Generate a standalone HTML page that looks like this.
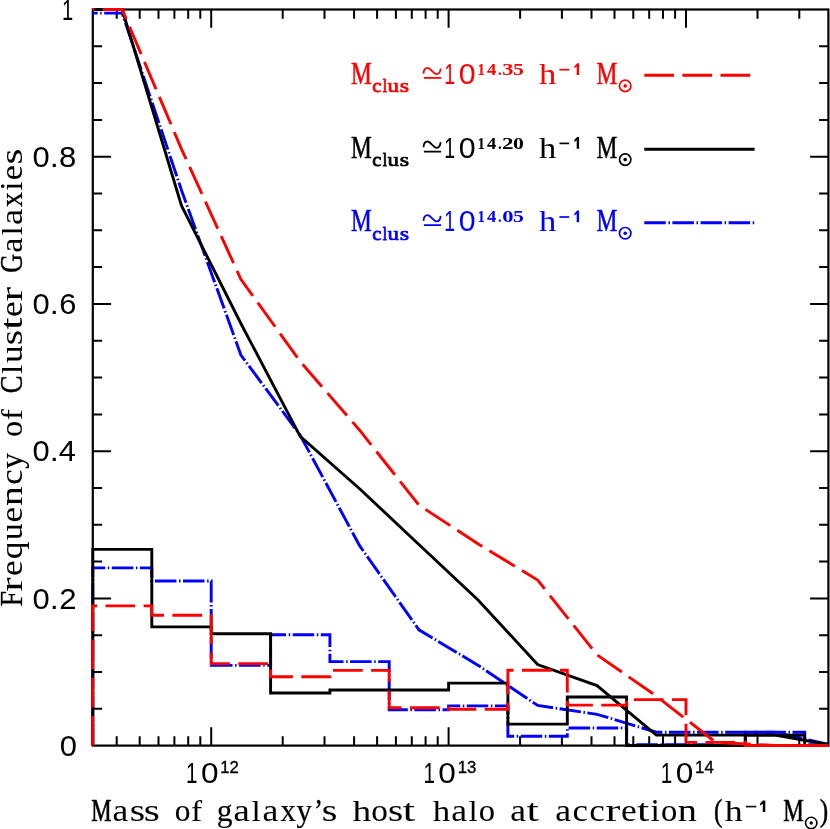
<!DOCTYPE html>
<html><head><meta charset="utf-8"><title>Cluster galaxies</title>
<style>html,body{margin:0;padding:0;background:#fff}svg{display:block;will-change:transform}text{font-family:"Liberation Serif",serif}.sn{font-family:"Liberation Sans",sans-serif}.k text{vector-effect:non-scaling-stroke;stroke-linejoin:round}</style></head><body>
<svg width="830" height="829" viewBox="0 0 830 829">
<rect width="830" height="829" fill="#fff"/>
<path d="M116.7,745.6v-9.3M116.7,9.5v9.3M139.7,745.6v-9.3M139.7,9.5v9.3M158.5,745.6v-9.3M158.5,9.5v9.3M174.4,745.6v-9.3M174.4,9.5v9.3M188.2,745.6v-9.3M188.2,9.5v9.3M200.3,745.6v-9.3M200.3,9.5v9.3M211.2,745.6v-18.3M211.2,9.5v18.3M282.7,745.6v-9.3M282.7,9.5v9.3M324.5,745.6v-9.3M324.5,9.5v9.3M354.1,745.6v-9.3M354.1,9.5v9.3M377.1,745.6v-9.3M377.1,9.5v9.3M395.9,745.6v-9.3M395.9,9.5v9.3M411.8,745.6v-9.3M411.8,9.5v9.3M425.6,745.6v-9.3M425.6,9.5v9.3M437.7,745.6v-9.3M437.7,9.5v9.3M448.6,745.6v-18.3M448.6,9.5v18.3M520.1,745.6v-9.3M520.1,9.5v9.3M561.9,745.6v-9.3M561.9,9.5v9.3M591.5,745.6v-9.3M591.5,9.5v9.3M614.5,745.6v-9.3M614.5,9.5v9.3M633.3,745.6v-9.3M633.3,9.5v9.3M649.2,745.6v-9.3M649.2,9.5v9.3M663.0,745.6v-9.3M663.0,9.5v9.3M675.1,745.6v-9.3M675.1,9.5v9.3M686.0,745.6v-18.3M686.0,9.5v18.3M757.5,745.6v-9.3M757.5,9.5v9.3M799.3,745.6v-9.3M799.3,9.5v9.3M92.8,708.8h9.3M828.4,708.8h-9.3M92.8,672.0h9.3M828.4,672.0h-9.3M92.8,635.2h9.3M828.4,635.2h-9.3M92.8,598.4h18.3M828.4,598.4h-18.3M92.8,561.6h9.3M828.4,561.6h-9.3M92.8,524.8h9.3M828.4,524.8h-9.3M92.8,488.0h9.3M828.4,488.0h-9.3M92.8,451.2h18.3M828.4,451.2h-18.3M92.8,414.4h9.3M828.4,414.4h-9.3M92.8,377.6h9.3M828.4,377.6h-9.3M92.8,340.7h9.3M828.4,340.7h-9.3M92.8,303.9h18.3M828.4,303.9h-18.3M92.8,267.1h9.3M828.4,267.1h-9.3M92.8,230.3h9.3M828.4,230.3h-9.3M92.8,193.5h9.3M828.4,193.5h-9.3M92.8,156.7h18.3M828.4,156.7h-18.3M92.8,119.9h9.3M828.4,119.9h-9.3M92.8,83.1h9.3M828.4,83.1h-9.3M92.8,46.3h9.3M828.4,46.3h-9.3" stroke="#000" stroke-width="2" fill="none"/>
<rect x="92.8" y="9.5" width="735.6" height="736.1" fill="none" stroke="#000" stroke-width="2.2"/>
<g fill="none" stroke-width="2.9" stroke-linejoin="miter">
<path d="M92.8,745.6 L92.8,567.9 L151.8,567.9 L151.8,581.0 L211.2,581.0 L211.2,665.4 L270.6,665.4 L270.6,634.7 L329.9,634.7 L329.9,661.6 L389.2,661.6 L389.2,709.7 L448.6,709.7 L448.6,705.9 L507.9,705.9 L507.9,736.3 L567.3,736.3 L567.3,728.0 L626.6,728.0 L626.6,744.6 L686.0,744.6 L686.0,744.6 L745.3,744.6 L745.3,732.2 L804.7,732.2 L804.7,744.6 L828.4,744.6" stroke="#0000ff" stroke-dasharray="21.5 2.6 1.5 2.5"/>
<path d="M92.8,13.1 L122.2,13.1 L181.5,190.3 L240.9,355.0 L300.2,435.2 L359.6,545.7 L418.9,629.8 L478.3,665.4 L537.6,705.4 L597.0,714.3 L656.3,732.2 L715.7,732.2 L775.0,732.2 L828.4,744.5" stroke="#0000ff" stroke-dasharray="21.5 2.6 1.5 2.5" stroke-dashoffset="16.7"/>
<path d="M92.8,745.6 L92.8,549.4 L151.8,549.4 L151.8,626.9 L211.2,626.9 L211.2,633.7 L270.6,633.7 L270.6,693.0 L329.9,693.0 L329.9,690.0 L389.2,690.0 L389.2,690.0 L448.6,690.0 L448.6,683.1 L507.9,683.1 L507.9,724.1 L567.3,724.1 L567.3,697.0 L626.6,697.0 L626.6,745.5 L686.0,745.5 L686.0,745.5 L745.3,745.5 L745.3,735.1 L804.7,735.1 L804.7,745.5 L828.4,745.5" stroke="#000"/>
<path d="M92.8,9.5 L122.2,9.5 L181.5,205.7 L240.9,323.5 L300.2,436.4 L359.6,488.7 L418.9,544.5 L478.3,600.2 L537.6,664.6 L597.0,685.6 L656.3,735.1 L715.7,735.1 L775.0,735.1 L828.4,744.5" stroke="#000"/>
<path d="M92.8,745.6 L92.8,605.9 L151.8,605.9 L151.8,615.2 L211.2,615.2 L211.2,663.6 L270.6,663.6 L270.6,676.8 L329.9,676.8 L329.9,670.4 L389.2,670.4 L389.2,707.7 L448.6,707.7 L448.6,709.2 L507.9,709.2 L507.9,670.2 L567.3,670.2 L567.3,705.1 L626.6,705.1 L626.6,699.6 L686.0,699.6 L686.0,742.4 L745.3,742.4 L745.3,745.5 L804.7,745.5 L804.7,745.5 L828.4,745.5" stroke="#ff0000" stroke-dasharray="29.7 8.4"/>
<path d="M92.8,9.5 L122.2,9.5 L181.5,149.1 L240.9,279.3 L300.2,361.5 L359.6,430.2 L418.9,505.1 L478.3,544.0 L537.6,580.0 L597.0,654.8 L656.3,696.0 L715.7,742.4 L775.0,745.5 L828.4,745.5" stroke="#ff0000" stroke-dasharray="29.7 8.4" stroke-dashoffset="28"/>
<path d="M644.3,75.3H754.6" stroke="#ff0000" stroke-dasharray="29.7 8.4"/>
<path d="M644.3,149.2H754.6" stroke="#000"/>
<path d="M644.3,222.7H754.6" stroke="#0000ff" stroke-dasharray="21.5 2.6 1.5 2.5"/>
</g>
<g fill="#000" stroke="none">
<text class="sn" transform="translate(32.49,166.8) scale(1.046,1)" font-size="29.6" stroke-width="0.01">0</text>
<text class="sn" transform="translate(49.63,166.8) scale(1.100,1)" font-size="29.6" stroke-width="0.01">.</text>
<text class="sn" transform="translate(59.05,166.8) scale(1.051,1)" font-size="29.6" stroke-width="0.01">8</text>
<text class="sn" transform="translate(32.49,314.0) scale(1.046,1)" font-size="29.6" stroke-width="0.01">0</text>
<text class="sn" transform="translate(49.63,314.0) scale(1.100,1)" font-size="29.6" stroke-width="0.01">.</text>
<text class="sn" transform="translate(59.24,314.0) scale(1.040,1)" font-size="29.6" stroke-width="0.01">6</text>
<text class="sn" transform="translate(32.49,461.3) scale(1.046,1)" font-size="29.6" stroke-width="0.01">0</text>
<text class="sn" transform="translate(49.63,461.3) scale(1.100,1)" font-size="29.6" stroke-width="0.01">.</text>
<text class="sn" transform="translate(58.79,461.3) scale(1.039,1)" font-size="29.6" stroke-width="0.01">4</text>
<text class="sn" transform="translate(32.49,608.5) scale(1.046,1)" font-size="29.6" stroke-width="0.01">0</text>
<text class="sn" transform="translate(49.63,608.5) scale(1.100,1)" font-size="29.6" stroke-width="0.01">.</text>
<text class="sn" transform="translate(59.23,608.5) scale(1.053,1)" font-size="29.6" stroke-width="0.01">2</text>
<text class="sn" transform="translate(59.79,755.8) scale(1.046,1)" font-size="29.6" stroke-width="0.01">0</text>
<text class="sn" transform="translate(62.06,19.6) scale(0.682,1)" font-size="29.6" stroke-width="0.01">1</text>
<text class="sn" transform="translate(186.03,782.8) scale(0.697,1)" font-size="29.6" stroke-width="0.01">1</text>
<text class="sn" transform="translate(200.97,782.8) scale(1.067,1)" font-size="29.6" stroke-width="0.01">0</text>
<text class="sn" x="220.3" y="773.1" font-size="16.5" stroke="#000" stroke-width="0.35" textLength="18.6" lengthAdjust="spacingAndGlyphs">12</text>
<text class="sn" transform="translate(423.43,782.8) scale(0.697,1)" font-size="29.6" stroke-width="0.01">1</text>
<text class="sn" transform="translate(438.37,782.8) scale(1.067,1)" font-size="29.6" stroke-width="0.01">0</text>
<text class="sn" x="457.7" y="773.1" font-size="16.5" stroke="#000" stroke-width="0.35" textLength="18.6" lengthAdjust="spacingAndGlyphs">13</text>
<text class="sn" transform="translate(660.83,782.8) scale(0.697,1)" font-size="29.6" stroke-width="0.01">1</text>
<text class="sn" transform="translate(675.77,782.8) scale(1.067,1)" font-size="29.6" stroke-width="0.01">0</text>
<text class="sn" x="695.1" y="773.1" font-size="16.5" stroke="#000" stroke-width="0.35" textLength="18.6" lengthAdjust="spacingAndGlyphs">14</text>
</g>
<g class="k" fill="#000" stroke="#000" stroke-width="0.5">
<text transform="translate(91.34,820.6) scale(0.728,1)" font-size="31.4" stroke-width="0.53">M</text>
<text transform="translate(112.55,820.6) scale(1.129,1)" font-size="31.4" stroke-width="0.01">a</text>
<text transform="translate(129.78,820.6) scale(1.255,1)" font-size="31.4" stroke-width="0.01">s</text>
<text transform="translate(143.80,820.6) scale(1.317,1)" font-size="31.4" stroke-width="0.01">s</text>
<text transform="translate(174.70,820.6) scale(0.999,1)" font-size="31.4" stroke-width="0.15">o</text>
<text transform="translate(191.07,820.6) scale(1.120,1)" font-size="29.83" stroke-width="0.01">f</text>
<text transform="translate(216.75,820.6) scale(1.003,1)" font-size="31.4" stroke-width="0.15">g</text>
<text transform="translate(233.41,820.6) scale(1.169,1)" font-size="31.4" stroke-width="0.01">a</text>
<text transform="translate(251.43,820.6) scale(1.114,1)" font-size="29.83" stroke-width="0.01">l</text>
<text transform="translate(262.45,820.6) scale(1.137,1)" font-size="31.4" stroke-width="0.01">a</text>
<text transform="translate(280.43,820.6) scale(0.984,1)" font-size="31.4" stroke-width="0.17">x</text>
<text transform="translate(296.52,820.6) scale(0.981,1)" font-size="31.4" stroke-width="0.18">y</text>
<text transform="translate(314.36,820.6) scale(0.813,1)" font-size="31.4" stroke-width="0.41">’</text>
<text transform="translate(321.86,820.6) scale(1.276,1)" font-size="31.4" stroke-width="0.01">s</text>
<text transform="translate(352.54,820.6) scale(1.251,1)" font-size="29.83" stroke-width="0.01">h</text>
<text transform="translate(371.23,820.6) scale(1.059,1)" font-size="31.4" stroke-width="0.07">o</text>
<text transform="translate(387.90,820.6) scale(1.245,1)" font-size="31.4" stroke-width="0.01">s</text>
<text transform="translate(402.77,820.6) scale(1.409,1)" font-size="31.4" stroke-width="0.01">t</text>
<text transform="translate(432.66,820.6) scale(1.167,1)" font-size="29.83" stroke-width="0.01">h</text>
<text transform="translate(451.25,820.6) scale(1.137,1)" font-size="31.4" stroke-width="0.01">a</text>
<text transform="translate(468.87,820.6) scale(1.057,1)" font-size="29.83" stroke-width="0.07">l</text>
<text transform="translate(478.66,820.6) scale(1.037,1)" font-size="31.4" stroke-width="0.1">o</text>
<text transform="translate(510.25,820.6) scale(1.129,1)" font-size="31.4" stroke-width="0.01">a</text>
<text transform="translate(526.47,820.6) scale(1.409,1)" font-size="31.4" stroke-width="0.01">t</text>
<text transform="translate(555.35,820.6) scale(1.137,1)" font-size="31.4" stroke-width="0.01">a</text>
<text transform="translate(572.58,820.6) scale(1.104,1)" font-size="31.4" stroke-width="0.01">c</text>
<text transform="translate(589.17,820.6) scale(1.113,1)" font-size="31.4" stroke-width="0.01">c</text>
<text transform="translate(605.51,820.6) scale(1.413,1)" font-size="31.4" stroke-width="0.01">r</text>
<text transform="translate(620.92,820.6) scale(1.127,1)" font-size="31.4" stroke-width="0.01">e</text>
<text transform="translate(637.07,820.6) scale(1.409,1)" font-size="31.4" stroke-width="0.01">t</text>
<text transform="translate(650.83,820.6) scale(1.018,1)" font-size="31.4" stroke-width="0.13">i</text>
<text transform="translate(660.96,820.6) scale(1.037,1)" font-size="31.4" stroke-width="0.1">o</text>
<text transform="translate(677.72,820.6) scale(1.220,1)" font-size="31.4" stroke-width="0.01">n</text>
<text transform="translate(713.99,820.6) scale(0.806,1)" font-size="31.4" stroke-width="0.42">(</text>
<text transform="translate(724.65,820.6) scale(1.202,1)" font-size="29.83" stroke-width="0.01">h</text>
<text transform="translate(783.33,820.6) scale(0.736,1)" font-size="31.4" stroke-width="0.52">M</text>
<text transform="translate(819.78,820.6) scale(0.806,1)" font-size="31.4" stroke-width="0.42">)</text>
<path d="M745.8,806.6H756.3" stroke="#000" stroke-width="1.6" fill="none"/>
<path d="M760.1,803.6l2.9,-3.1h2.3v11.5h-2.5v-8.2l-2.7,1.8z" stroke="none"/>
<circle cx="811.2" cy="823" r="5.7" fill="none" stroke="#000" stroke-width="1.6"/><circle cx="811.2" cy="823" r="1.7" stroke="none"/>
<text transform="translate(21.8,606.60) rotate(-90) scale(0.888,1)" font-size="31.4" stroke-width="0.31">F</text>
<text transform="translate(21.8,591.46) rotate(-90) scale(1.361,1)" font-size="31.4" stroke-width="0.01">r</text>
<text transform="translate(21.8,576.07) rotate(-90) scale(1.119,1)" font-size="31.4" stroke-width="0.01">e</text>
<text transform="translate(21.8,559.29) rotate(-90) scale(1.136,1)" font-size="31.4" stroke-width="0.01">q</text>
<text transform="translate(21.8,540.35) rotate(-90) scale(1.078,1)" font-size="31.4" stroke-width="0.04">u</text>
<text transform="translate(21.8,522.47) rotate(-90) scale(1.119,1)" font-size="31.4" stroke-width="0.01">e</text>
<text transform="translate(21.8,506.11) rotate(-90) scale(1.269,1)" font-size="31.4" stroke-width="0.01">n</text>
<text transform="translate(21.8,484.82) rotate(-90) scale(1.104,1)" font-size="31.4" stroke-width="0.01">c</text>
<text transform="translate(21.8,468.68) rotate(-90) scale(1.000,1)" font-size="31.4" stroke-width="0.15">y</text>
<text transform="translate(21.8,436.93) rotate(-90) scale(1.029,1)" font-size="31.4" stroke-width="0.11">o</text>
<text transform="translate(21.8,420.13) rotate(-90) scale(1.120,1)" font-size="29.83" stroke-width="0.01">f</text>
<text transform="translate(21.8,393.29) rotate(-90) scale(0.848,1)" font-size="31.4" stroke-width="0.36">C</text>
<text transform="translate(21.8,374.07) rotate(-90) scale(1.128,1)" font-size="29.83" stroke-width="0.01">l</text>
<text transform="translate(21.8,362.97) rotate(-90) scale(1.125,1)" font-size="31.4" stroke-width="0.01">u</text>
<text transform="translate(21.8,345.32) rotate(-90) scale(1.255,1)" font-size="31.4" stroke-width="0.01">s</text>
<text transform="translate(21.8,329.63) rotate(-90) scale(1.409,1)" font-size="31.4" stroke-width="0.01">t</text>
<text transform="translate(21.8,316.88) rotate(-90) scale(1.127,1)" font-size="31.4" stroke-width="0.01">e</text>
<text transform="translate(21.8,301.16) rotate(-90) scale(1.371,1)" font-size="31.4" stroke-width="0.01">r</text>
<text transform="translate(21.8,272.77) rotate(-90) scale(0.828,1)" font-size="31.4" stroke-width="0.39">G</text>
<text transform="translate(21.8,252.70) rotate(-90) scale(1.088,1)" font-size="31.4" stroke-width="0.03">a</text>
<text transform="translate(21.8,235.24) rotate(-90) scale(1.071,1)" font-size="29.83" stroke-width="0.05">l</text>
<text transform="translate(21.8,224.88) rotate(-90) scale(1.161,1)" font-size="31.4" stroke-width="0.01">a</text>
<text transform="translate(21.8,206.96) rotate(-90) scale(0.951,1)" font-size="31.4" stroke-width="0.22">x</text>
<text transform="translate(21.8,190.47) rotate(-90) scale(1.018,1)" font-size="31.4" stroke-width="0.13">i</text>
<text transform="translate(21.8,180.13) rotate(-90) scale(1.084,1)" font-size="31.4" stroke-width="0.03">e</text>
<text transform="translate(21.8,164.47) rotate(-90) scale(1.296,1)" font-size="31.4" stroke-width="0.01">s</text>
</g>
<g class="k" fill="#ff0000" stroke="#ff0000" stroke-width="0.5">
<text transform="translate(351.03,84.0) scale(0.755,1)" font-size="30.9" stroke-width="0.49">M</text>
<text transform="translate(372.22,92.2) scale(1.037,1)" font-size="19.8" stroke-width="0.8">c</text>
<text transform="translate(382.80,92.2) scale(0.805,1)" font-size="18.81" stroke-width="0.8">l</text>
<text transform="translate(387.60,92.2) scale(1.161,1)" font-size="19.8" stroke-width="0.8">u</text>
<text transform="translate(399.71,92.2) scale(1.214,1)" font-size="19.8" stroke-width="0.8">s</text>
<path d="M423.5,73.6C423.7,69.5 425.5,67.8 427.6,67.8C430.5,67.8 433.5,74.1 436.7,74.1C438.8,74.1 440.3,72.0 440.6,68.5M423.9,77.9H441.1" fill="none" stroke="#ff0000" stroke-width="1.8"/>
<text class="sn" transform="translate(444.22,84.0) scale(0.654,1)" font-size="29.8" stroke-width="0.01">1</text>
<text class="sn" transform="translate(458.72,84.0) scale(1.018,1)" font-size="29.8" stroke-width="0.01">0</text>
<text transform="translate(477.50,75.0) scale(0.864,1)" font-size="17.3" font-weight="bold" stroke-width="0.01">1</text>
<text transform="translate(486.95,75.0) scale(1.075,1)" font-size="17.3" font-weight="bold" stroke-width="0.01">4</text>
<text transform="translate(497.95,75.0) scale(0.856,1)" font-size="17.3" font-weight="bold" stroke-width="0.01">.</text>
<text transform="translate(502.16,75.0) scale(1.296,1)" font-size="17.3" font-weight="bold" stroke-width="0.01">3</text>
<text transform="translate(512.93,75.0) scale(1.256,1)" font-size="17.3" font-weight="bold" stroke-width="0.01">5</text>
<text transform="translate(538.96,84.0) scale(1.178,1)" font-size="29.35" stroke-width="0.01">h</text>
<path d="M559.4,69.7h9.8" fill="none" stroke="#ff0000" stroke-width="1.7"/>
<path d="M574.3,66.4l2.9,-3.1h1.9v11.7h-2.4v-8.4l-2.4,1.7z" stroke="none"/>
<text transform="translate(596.62,84.0) scale(0.759,1)" font-size="30.9" stroke-width="0.49">M</text>
<circle cx="625.2" cy="85.9" r="5.7" fill="none" stroke="#ff0000" stroke-width="1.7"/><circle cx="625.2" cy="85.9" r="1.8" stroke="none"/>
</g>
<g class="k" fill="#000" stroke="#000" stroke-width="0.5">
<text transform="translate(351.03,157.7) scale(0.755,1)" font-size="30.9" stroke-width="0.49">M</text>
<text transform="translate(372.22,165.89999999999998) scale(1.037,1)" font-size="19.8" stroke-width="0.8">c</text>
<text transform="translate(382.80,165.89999999999998) scale(0.805,1)" font-size="18.81" stroke-width="0.8">l</text>
<text transform="translate(387.60,165.89999999999998) scale(1.161,1)" font-size="19.8" stroke-width="0.8">u</text>
<text transform="translate(399.71,165.89999999999998) scale(1.214,1)" font-size="19.8" stroke-width="0.8">s</text>
<path d="M423.5,147.3C423.7,143.2 425.5,141.5 427.6,141.5C430.5,141.5 433.5,147.8 436.7,147.8C438.8,147.8 440.3,145.7 440.6,142.2M423.9,151.6H441.1" fill="none" stroke="#000" stroke-width="1.8"/>
<text class="sn" transform="translate(444.22,157.7) scale(0.654,1)" font-size="29.8" stroke-width="0.01">1</text>
<text class="sn" transform="translate(458.72,157.7) scale(1.018,1)" font-size="29.8" stroke-width="0.01">0</text>
<text transform="translate(477.50,148.7) scale(0.864,1)" font-size="17.3" font-weight="bold" stroke-width="0.01">1</text>
<text transform="translate(486.95,148.7) scale(1.075,1)" font-size="17.3" font-weight="bold" stroke-width="0.01">4</text>
<text transform="translate(497.95,148.7) scale(0.856,1)" font-size="17.3" font-weight="bold" stroke-width="0.01">.</text>
<text transform="translate(502.03,148.7) scale(1.337,1)" font-size="17.3" font-weight="bold" stroke-width="0.01">2</text>
<text transform="translate(512.97,148.7) scale(1.255,1)" font-size="17.3" font-weight="bold" stroke-width="0.01">0</text>
<text transform="translate(538.96,157.7) scale(1.178,1)" font-size="29.35" stroke-width="0.01">h</text>
<path d="M559.4,143.4h9.8" fill="none" stroke="#000" stroke-width="1.7"/>
<path d="M574.3,140.1l2.9,-3.1h1.9v11.7h-2.4v-8.4l-2.4,1.7z" stroke="none"/>
<text transform="translate(596.62,157.7) scale(0.759,1)" font-size="30.9" stroke-width="0.49">M</text>
<circle cx="625.2" cy="159.6" r="5.7" fill="none" stroke="#000" stroke-width="1.7"/><circle cx="625.2" cy="159.6" r="1.8" stroke="none"/>
</g>
<g class="k" fill="#0000ff" stroke="#0000ff" stroke-width="0.5">
<text transform="translate(351.03,231.3) scale(0.755,1)" font-size="30.9" stroke-width="0.49">M</text>
<text transform="translate(372.22,239.5) scale(1.037,1)" font-size="19.8" stroke-width="0.8">c</text>
<text transform="translate(382.80,239.5) scale(0.805,1)" font-size="18.81" stroke-width="0.8">l</text>
<text transform="translate(387.60,239.5) scale(1.161,1)" font-size="19.8" stroke-width="0.8">u</text>
<text transform="translate(399.71,239.5) scale(1.214,1)" font-size="19.8" stroke-width="0.8">s</text>
<path d="M423.5,220.9C423.7,216.8 425.5,215.1 427.6,215.1C430.5,215.1 433.5,221.4 436.7,221.4C438.8,221.4 440.3,219.3 440.6,215.8M423.9,225.2H441.1" fill="none" stroke="#0000ff" stroke-width="1.8"/>
<text class="sn" transform="translate(444.22,231.3) scale(0.654,1)" font-size="29.8" stroke-width="0.01">1</text>
<text class="sn" transform="translate(458.72,231.3) scale(1.018,1)" font-size="29.8" stroke-width="0.01">0</text>
<text transform="translate(477.50,222.3) scale(0.864,1)" font-size="17.3" font-weight="bold" stroke-width="0.01">1</text>
<text transform="translate(486.95,222.3) scale(1.075,1)" font-size="17.3" font-weight="bold" stroke-width="0.01">4</text>
<text transform="translate(497.95,222.3) scale(0.856,1)" font-size="17.3" font-weight="bold" stroke-width="0.01">.</text>
<text transform="translate(502.14,222.3) scale(1.309,1)" font-size="17.3" font-weight="bold" stroke-width="0.01">0</text>
<text transform="translate(512.93,222.3) scale(1.256,1)" font-size="17.3" font-weight="bold" stroke-width="0.01">5</text>
<text transform="translate(538.96,231.3) scale(1.178,1)" font-size="29.35" stroke-width="0.01">h</text>
<path d="M559.4,217.0h9.8" fill="none" stroke="#0000ff" stroke-width="1.7"/>
<path d="M574.3,213.7l2.9,-3.1h1.9v11.7h-2.4v-8.4l-2.4,1.7z" stroke="none"/>
<text transform="translate(596.62,231.3) scale(0.759,1)" font-size="30.9" stroke-width="0.49">M</text>
<circle cx="625.2" cy="233.2" r="5.7" fill="none" stroke="#0000ff" stroke-width="1.7"/><circle cx="625.2" cy="233.2" r="1.8" stroke="none"/>
</g>
</svg></body></html>
